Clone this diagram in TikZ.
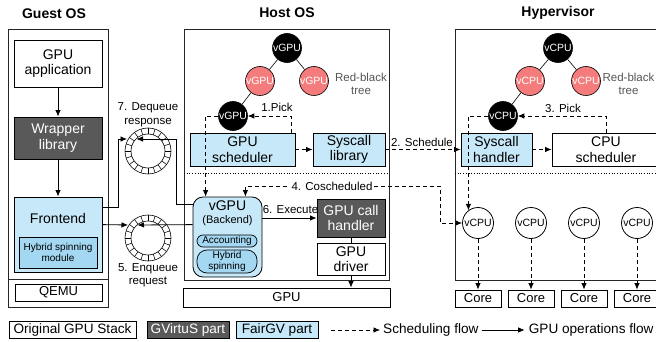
\documentclass[tikz,border=0pt]{standalone}
\usepackage{fontspec}
\setmainfont{Liberation Sans}
\usetikzlibrary{arrows.meta,calc}
\definecolor{fairblue}{HTML}{C6E8F8}
\definecolor{deepblue}{HTML}{A3D7F2}
\definecolor{gvdark}{HTML}{595959}
\definecolor{rbred}{HTML}{F47C7C}
\definecolor{graytext}{HTML}{555555}
\newcommand{\fbig}{\fontsize{14}{15.5}\selectfont}
\newcommand{\ftitle}{\fontsize{14}{16}\selectfont\bfseries}
\newcommand{\flab}{\fontsize{11.5}{13.5}\selectfont}
\newcommand{\fsml}{\fontsize{10}{11}\selectfont}
\newcommand{\fbk}{\fontsize{11}{12}\selectfont}
\newcommand{\fcirc}{\fontsize{10.5}{11}\selectfont}
\newcommand{\fmid}{\fontsize{13}{14}\selectfont}
\newcommand{\fleg}{\fontsize{13.6}{14}\selectfont}
\begin{document}
\begin{tikzpicture}[x=1pt,y=-1pt,
  >={Latex[length=6.5pt,width=5.5pt]},
  box/.style={draw=black, line width=0.8pt, inner sep=0pt, align=center, font=\fbig},
  panel/.style={draw=black!85, line width=0.9pt},
  blue/.style={fill=fairblue},
  dark/.style={fill=gvdark, text=white},
  rb/.style={circle, draw=black, line width=0.6pt, minimum size=29pt, inner sep=0pt, font=\fcirc},
  rbblack/.style={rb, fill=black, text=white},
  rbr/.style={rb, fill=rbred, text=white},
  vcpu/.style={circle, draw=black, line width=0.8pt, minimum size=31pt, inner sep=0pt, font=\fcirc},
  flow/.style={line width=0.8pt, ->},
  sched/.style={line width=0.8pt, dash pattern=on 4pt off 3pt, ->},
  lab/.style={font=\flab, inner sep=1pt, align=center},
  pill/.style={draw=black, line width=0.7pt, fill=deepblue, inner sep=0pt, align=center, font=\fsml}
]
\useasboundingbox (0,0) rectangle (656,342);
\clip (0,0) rectangle (656,342);

% ---------------- Guest OS
\draw[panel] (8,29) rectangle (108,307);
\draw[panel] (8,279) -- (108,279);
\node[font=\ftitle] (tg) at (54,14) {Guest OS};
\node[box, minimum width=88, minimum height=47] (app) at (58,63.5) {GPU\\application};
\node[box, dark, minimum width=88, minimum height=42] (wrap) at (58,138) {Wrapper\\library};
\node[box, blue, minimum width=88, minimum height=75] (front) at (58,234.5) {};
\node[font=\fbig] (ftxt) at (58,218) {Frontend};
\node[box, fill=deepblue, minimum width=78, minimum height=31, font=\fsml] (hsm) at (58,252.5) {Hybrid spinning\\module};
\node[box, minimum width=87, minimum height=17, font=\fmid] (qemu) at (58.5,292.5) {QEMU};
\draw[flow] (app) -- (wrap);
\draw[flow] (wrap) -- (front);

% ---------------- Host OS
\draw[panel] (184,29) rectangle (389,280);
\draw[dotted, line width=0.7pt] (184,173) -- (389,173);
\node[font=\ftitle] (th) at (287,13) {Host OS};
\node[rbblack] (g0) at (287,48) {vGPU};
\node[rbr] (g1) at (260,81) {vGPU};
\node[rbr] (g2) at (314,81) {vGPU};
\node[rbblack] (g3) at (233,116) {vGPU};
\draw[line width=0.6pt] (g0) -- (g1);
\draw[line width=0.6pt] (g0) -- (g2);
\draw[line width=0.6pt] (g1) -- (g3);
\node[lab, text=graytext] (rbt1) at (361,84) {Red-black\\tree};

\node[box, blue, minimum width=105, minimum height=33] (sched) at (242.5,149.5) {GPU\\scheduler};
\node[box, blue, minimum width=72, minimum height=33] (slib) at (349,149.5) {Syscall\\library};
\draw[sched] (sched) -- (slib);

\node[box, blue, rounded corners=10pt, minimum width=69, minimum height=80] (be) at (227.5,237) {};
\node[font=\fbig, inner sep=0pt] (bev) at (227.5,206) {vGPU};
\node[font=\fbk, inner sep=0pt] (beb) at (227.5,221) {(Backend)};
\node[pill, rounded corners=6pt, minimum width=60, minimum height=12] (acc) at (227,241) {Accounting};
\node[pill, rounded corners=10pt, minimum width=60, minimum height=23] (hyb) at (227,261.5) {Hybrid\\spinning};

\draw[sched] ([xshift=-4pt]sched.north east) |- (g3.east);
\node[lab] (pk1) at (277,107) {1.Pick};
\draw[sched] (g3.west) -| ([xshift=13pt]be.north west);

\node[box, dark, minimum width=68, minimum height=38] (gch) at (351,218) {GPU call\\handler};
\node[box, minimum width=68, minimum height=32] (gdrv) at (351,259) {GPU\\driver};
\node[box, minimum width=207, minimum height=19, font=\fmid] (gpu) at (286.5,297.5) {GPU};
\draw[line width=0.8pt] (gch) -- (gdrv);
\draw[flow] (gdrv.south) -- (gdrv.south |- gpu.north);
\draw[flow] (gch.west -| be.east) -- (gch.west);
\node[lab] (ex) at (290.5,210) {6. Execute};

% ---------------- ring buffers
\coordinate (r7) at (148,151);
\coordinate (r5) at (148,238);
\foreach \c in {r7,r5} {
  \draw[line width=0.6pt] (\c) circle[radius=23];
  \draw[line width=0.6pt] (\c) circle[radius=17];
  \foreach \a in {0,18,...,342} \draw[line width=0.55pt] ($(\c)+(\a:17)$) -- ($(\c)+(\a:23)$);
}
\coordinate (r7o) at (127,139);
\coordinate (r7i) at (136.5,139);
\coordinate (r5o) at (128,225);
\coordinate (r5i) at (137.5,225);
\draw[flow] ([yshift=-11pt]front.north east) -- ++(16,0) |- (r7o);
\draw[flow] ([yshift=-8pt]be.north west) -- ++(-16,0) |- (r7i);
\draw[flow] ([yshift=-28pt]front.north east) -- (r5o);
\draw[flow] ([yshift=-28pt]be.north west) -- (r5i);
\node[lab] (deq) at (148,114.5) {7. Dequeue\\response};
\node[lab] (enq) at (148,275) {5. Enqueue\\request};

% ---------------- Hypervisor
\draw[panel] (455,29) rectangle (670,280);
\draw[dotted, line width=0.7pt] (455,173) -- (656,173);
\node[font=\ftitle] (thv) at (558,13) {Hypervisor};
\node[rbblack] (c0) at (558,48) {vCPU};
\node[rbr] (c1) at (530,81) {vCPU};
\node[rbr] (c2) at (586,81) {vCPU};
\node[rbblack] (c3) at (503,116) {vCPU};
\draw[line width=0.6pt] (c0) -- (c1);
\draw[line width=0.6pt] (c0) -- (c2);
\draw[line width=0.6pt] (c1) -- (c3);
\node[lab, text=graytext] (rbt2) at (628.5,84) {Red-black\\tree};

\node[box, blue, minimum width=71, minimum height=33] (sh) at (496.5,149.5) {Syscall\\handler};
\node[box, minimum width=108, minimum height=33] (cs) at (606,149.5) {CPU\\scheduler};
\draw[sched] (sh) -- (cs);
\draw[sched] (slib) -- (sh);
\node[lab] (sc2) at (422,142) {2. Schedule};
\draw[sched] (cs.north) |- (c3.east);
\node[lab] (pk3) at (563,108) {3. Pick};

\foreach \i/\x in {1/478,2/531,3/584,4/637} {
  \node[vcpu] (vc\i) at (\x,223) {vCPU};
  \node[box, minimum width=46, minimum height=17, font=\fmid] (core\i) at (\x,298.5) {Core};
  \draw[sched] (vc\i) -- (core\i);
}
\draw[sched] (c3.west) -| (vc1.127);

\draw[sched, <->] ([xshift=-17pt]be.north east) |- (440,186) |- (vc1.west);
\node[lab, fill=white, inner sep=2pt] (cos) at (332,186) {4. Coscheduled};

% ---------------- legend
\node[box, minimum width=127, minimum height=17, font=\fleg] (lg1) at (72.5,330) {Original GPU Stack};
\node[box, dark, minimum width=82, minimum height=17, font=\fleg] (lg2) at (188,330) {GVirtuS part};
\node[box, blue, minimum width=82, minimum height=17, font=\fleg] (lg3) at (277,330) {FairGV part};
\coordinate (ls1) at (331,330);
\coordinate (ls2) at (380,330);
\draw[sched] (ls1) -- (ls2);
\node[font=\fleg, anchor=west, inner sep=1pt] (lt1) at (382,330) {Scheduling flow};
\coordinate (lf1) at ([xshift=2pt]lt1.east);
\coordinate (lf2) at ([xshift=45pt]lt1.east);
\draw[flow] (lf1) -- (lf2);
\node[font=\fleg, anchor=west, inner sep=1pt] (lt2) at ([xshift=48pt]lt1.east) {GPU operations flow};
\end{tikzpicture}
\end{document}
